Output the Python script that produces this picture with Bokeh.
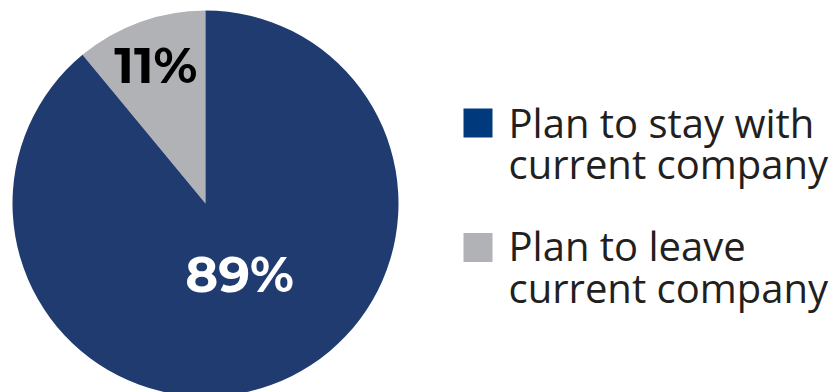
import math
from bokeh.plotting import figure
from bokeh.models import ColumnDataSource, Range1d
from bokeh.core.properties import value
from bokeh.embed import file_html
from bokeh.resources import INLINE

# Data
categories = ["Plan to leave current company", "Plan to stay with current company"]
shares = [11, 89]
labels = ["11%", "89%"]
legend_line1 = ["Plan to stay with", "Plan to leave"]
legend_line2 = ["current company", "current company"]

slice_colors = ["#b1b2b6", "#1f3b70"]
label_colors = ["#000000", "#ffffff"]
legend_colors = ["#003a7d", "#b1b2b6"]
label_radius_factor = [0.76, 0.41]
label_angle_nudge = [0.0, 0.1]

W, H = 840, 392
cx, cy, R = 205, 189, 193

p = figure(width=W, height=H, output_backend="svg", toolbar_location=None,
           x_range=Range1d(0, W), y_range=Range1d(0, H), min_border=0,
           background_fill_color="white", border_fill_color="white")
p.axis.visible = False
p.grid.visible = False
p.outline_line_color = None

total = sum(shares)
starts, ends, lx, ly = [], [], [], []
a = math.pi / 2
for s, f, nd in zip(shares, label_radius_factor, label_angle_nudge):
    sweep = 2 * math.pi * s / total
    starts.append(a)
    ends.append(a + sweep)
    mid = a + sweep / 2 + nd
    lx.append(cx + f * R * math.cos(mid))
    ly.append(cy + f * R * math.sin(mid))
    a += sweep

src = ColumnDataSource(dict(start=starts, end=ends, color=slice_colors,
                            x=[cx] * 2, y=[cy] * 2, cat=categories))
p.wedge(x="x", y="y", radius=R, start_angle="start", end_angle="end",
        fill_color="color", line_color=None, source=src)

lsrc = ColumnDataSource(dict(x=lx, y=ly, t=labels, c=label_colors))
p.text(x="x", y="y", text="t", text_color="c", source=lsrc,
       text_font=value("Montserrat, Open Sans"), text_font_style="bold",
       text_font_size="50px", text_align="center", text_baseline="middle")

# Legend
sq_x = 477.5
sq_y = [392 - 122.5, 392 - 247]
p.rect(x=[sq_x] * 2, y=sq_y, width=29, height=29, fill_color=legend_colors, line_color=None)
p.text(x=[508] * 2, y=[392 - 122, 392 - 245], text=legend_line1, text_color="#231f20",
       text_font=value("Open Sans"), text_font_size="40px",
       text_align="left", text_baseline="alphabetic")
p.text(x=[508] * 2, y=[392 - 163, 392 - 287], text=legend_line2, text_color="#231f20",
       text_font=value("Open Sans"), text_font_size="40px",
       text_align="left", text_baseline="alphabetic")

open("out.html", "w").write(file_html(p, INLINE))
